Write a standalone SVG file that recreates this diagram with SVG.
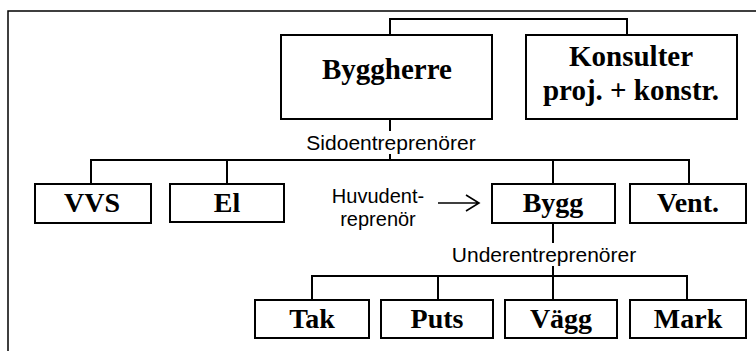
<svg xmlns="http://www.w3.org/2000/svg" width="756" height="351" viewBox="0 0 756 351">
<style>
.box{fill:#fff;stroke:#000;stroke-width:2}
.lbl{font-family:"Liberation Serif","Times New Roman",serif;font-weight:bold;font-size:28px;text-anchor:middle;fill:#000}
.big{font-size:29px}
.note{font-family:"Liberation Sans",Arial,sans-serif;font-size:21px;text-anchor:middle;fill:#000}
.sm{font-size:20px}
.ln{fill:none;stroke:#000;stroke-width:2}
</style>
<rect x="8" y="11" width="760" height="360" fill="#fff" stroke="#000" stroke-width="1.5"/>
<g id="connectors">
<path class="ln" d="M390 35V19H627V35"/>
<path class="ln" d="M390 119V131M390 154V160"/>
<path class="ln" d="M91 184V160H689V184M227 160V184M553 160V184"/>
<path class="ln" d="M553 223V243M553 266V276"/>
<path class="ln" d="M312 300V276H687V300M438 276V300M553 276V300"/>
<path fill="none" stroke="#000" stroke-width="1.6" d="M438 203H478M466 195L479 203L466 211"/>
</g>
<g id="labels">
<text class="note" x="391" y="150">Sidoentreprenörer</text>
<text class="note" x="544" y="262">Underentreprenörer</text>
<text class="note sm" x="378" y="203">Huvudent-</text>
<text class="note sm" x="378" y="226">reprenör</text>
</g>
<g id="byggherre"><rect class="box" x="281" y="35" width="211" height="84"/><text class="lbl big" x="387" y="79">Byggherre</text></g>
<g id="konsulter"><rect class="box" x="526" y="35" width="211" height="84"/><text class="lbl big" x="631" y="66">Konsulter</text><text class="lbl big" x="631" y="100">proj. + konstr.</text></g>
<g id="vvs"><rect class="box" x="35" y="184" width="116" height="39"/><text class="lbl" x="92" y="212">VVS</text></g>
<g id="el"><rect class="box" x="170" y="184" width="114" height="38"/><text class="lbl" x="227" y="212">El</text></g>
<g id="bygg"><rect class="box" x="492" y="184" width="123" height="39"/><text class="lbl" x="553" y="212">Bygg</text></g>
<g id="vent"><rect class="box" x="630" y="184" width="116" height="39"/><text class="lbl" x="688" y="212">Vent.</text></g>
<g id="tak"><rect class="box" x="255" y="300" width="114" height="38"/><text class="lbl" x="312" y="328">Tak</text></g>
<g id="puts"><rect class="box" x="381" y="300" width="112" height="38"/><text class="lbl" x="437" y="328">Puts</text></g>
<g id="vagg"><rect class="box" x="505" y="300" width="112" height="38"/><text class="lbl" x="561" y="328">Vägg</text></g>
<g id="mark"><rect class="box" x="630" y="300" width="116" height="38"/><text class="lbl" x="688" y="328">Mark</text></g>
</svg>
